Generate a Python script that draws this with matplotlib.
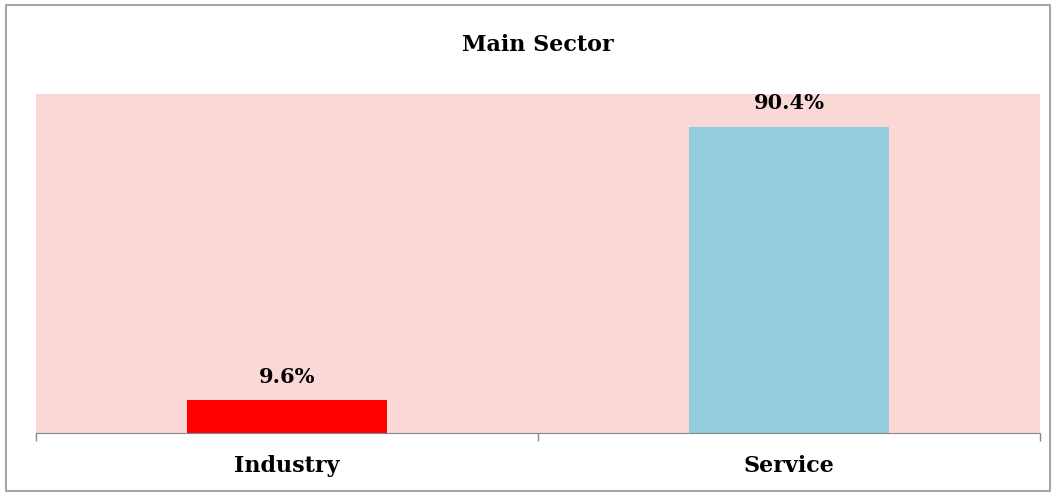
import matplotlib.pyplot as plt
from matplotlib.patches import Rectangle

categories = ['Industry', 'Service']
values = [9.6, 90.4]
colors = ['#FF0000', '#93CDDD']

plt.rcParams['font.family'] = ['DejaVu Serif']

fig = plt.figure(figsize=(10.56, 4.95), dpi=100)
# outer chart border
fig.patches.append(Rectangle((6 / 1056, 4 / 495), 1044 / 1056, 486 / 495,
                             transform=fig.transFigure, fill=False,
                             edgecolor='#A6A6A6', linewidth=1.5))

ax = fig.add_axes([36 / 1056, 1 - 433 / 495, 1004 / 1056, 339 / 495])
ax.set_facecolor('#F9D8D6')

x = range(len(categories))
ax.bar(x, values, width=0.4, color=colors, zorder=2)

for i, v in enumerate(values):
    ax.annotate(f'{v}%', (i, v), xytext=(0, 10), textcoords='offset points',
                ha='center', va='bottom', fontsize=15, fontweight='bold')

ax.set_xlim(-0.5, 1.5)
ax.set_ylim(0, 100)
ax.set_yticks([])
ax.set_xticks([-0.5, 0.5, 1.5])
ax.set_xticklabels([])
ax.set_xticks(list(x), minor=True)
ax.set_xticklabels(categories, minor=True, fontsize=16, fontweight='bold')
ax.tick_params(axis='x', which='major', length=6, color='#888888', width=1)
ax.tick_params(axis='x', which='minor', length=0, pad=16)

for s in ['top', 'right', 'left']:
    ax.spines[s].set_visible(False)
ax.spines['bottom'].set_color('#888888')

fig.text(538 / 1056, 1 - 45 / 495, 'Main Sector', ha='center', va='center',
         fontsize=16, fontweight='bold')

fig.savefig('out.png', dpi=100)
